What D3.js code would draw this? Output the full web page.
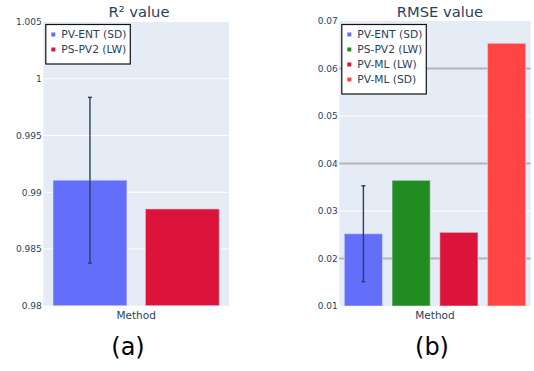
<!DOCTYPE html>
<html>
<head>
<meta charset="utf-8">
<script src="https://cdn.jsdelivr.net/npm/d3@7"></script>
<style>
  html, body { margin: 0; padding: 0; background: #fff; }
  svg { display: block; }
  text { font-family: "DejaVu Sans", Verdana, sans-serif; }
</style>
</head>
<body>
<svg id="chart" width="534" height="371"></svg>
<script>
// ---- data ----
const r2Methods = ["PV-ENT (SD)", "PS-PV2 (LW)"];
const r2Values = [0.99106, 0.98853];
const r2Errors = [0.0073, null];
const r2Ticks = [0.98, 0.985, 0.99, 0.995, 1, 1.005];
const r2TickLabels = ["0.98", "0.985", "0.99", "0.995", "1", "1.005"];

const rmseMethods = ["PV-ENT (SD)", "PS-PV2 (LW)", "PV-ML (LW)", "PV-ML (SD)"];
const rmseValues = [0.02522, 0.03646, 0.02551, 0.06531];
const rmseErrors = [0.0101, null, null, null];
const rmseTicks = [0.01, 0.02, 0.03, 0.04, 0.05, 0.06, 0.07];
const rmseTickLabels = ["0.01", "0.02", "0.03", "0.04", "0.05", "0.06", "0.07"];

const rmseColors = ["#636efa", "#228b22", "#dc143c", "#ff4444"];
const r2Colors = ["#636efa", "#dc143c"];

const svg = d3.select("#chart");
const textColor = "#2a3f5f";

function panel(cfg) {
  const g = svg.append("g");
  const x = d3.scaleBand().domain(cfg.methods).range([cfg.left, cfg.right])
    .paddingInner(0.2).paddingOuter(0.105);
  const y = d3.scaleLinear().domain(cfg.domain).range([cfg.bottom, cfg.top]);

  // plot background
  g.append("rect")
    .attr("x", cfg.left).attr("y", cfg.top)
    .attr("width", cfg.right - cfg.left).attr("height", cfg.bottom - cfg.top)
    .attr("fill", "#e5ecf6");

  // gridlines
  const inner = cfg.ticks.slice(1, -1);
  g.selectAll("line.grid").data(inner).join("line")
    .attr("class", "grid")
    .attr("x1", cfg.left).attr("x2", cfg.right)
    .attr("y1", d => y(d)).attr("y2", d => y(d))
    .attr("stroke", (d, i) => cfg.gridStyle(d, i).color)
    .attr("stroke-width", (d, i) => cfg.gridStyle(d, i).width);

  // y axis labels
  const yAxis = d3.axisLeft(y).tickValues(cfg.ticks)
    .tickFormat((d, i) => cfg.tickLabels[i]).tickSize(0).tickPadding(1.5);
  const ag = g.append("g").attr("transform", `translate(${cfg.left},0)`).call(yAxis);
  ag.select(".domain").remove();
  ag.selectAll("text").attr("fill", textColor).attr("font-size", 9)
    .attr("font-family", "'DejaVu Sans', Verdana, sans-serif");

  // bars
  g.selectAll("rect.bar").data(cfg.values).join("rect")
    .attr("class", "bar")
    .attr("x", (d, i) => x(cfg.methods[i]))
    .attr("width", x.bandwidth())
    .attr("y", d => y(d))
    .attr("height", d => cfg.bottom - y(d))
    .attr("fill", (d, i) => cfg.colors[i])
    .attr("stroke", "#e5ecf6").attr("stroke-opacity", 0.45).attr("stroke-width", 1.2);

  // error bars
  cfg.values.forEach((v, i) => {
    const e = cfg.errors[i];
    if (e == null) return;
    const cx = x(cfg.methods[i]) + x.bandwidth() / 2;
    const eg = g.append("g").attr("stroke", textColor).attr("stroke-width", 1.4);
    eg.append("line").attr("x1", cx).attr("x2", cx).attr("y1", y(v + e)).attr("y2", y(v - e));
    [v + e, v - e].forEach(t => {
      eg.append("line").attr("x1", cx - 2).attr("x2", cx + 2).attr("y1", y(t)).attr("y2", y(t));
    });
  });

  // title
  g.append("text").attr("x", cfg.titleX).attr("y", 17)
    .attr("text-anchor", "middle").attr("font-size", 14.7).attr("fill", textColor)
    .text(cfg.title);

  // x axis title
  g.append("text").attr("x", (cfg.left + cfg.right) / 2).attr("y", 319)
    .attr("text-anchor", "middle").attr("font-size", 10.5).attr("fill", textColor)
    .text("Method");

  // legend
  const lg = g.append("g").attr("transform", `translate(${cfg.left + 2.5},24.5)`);
  const lh = 10 + cfg.methods.length * 15;
  lg.append("rect").attr("width", 84.5).attr("height", lh - 0.5)
    .attr("fill", "#fff").attr("stroke", "#111").attr("stroke-width", 1.2);
  cfg.methods.forEach((m, i) => {
    const cy = 10 + i * 15;
    lg.append("rect").attr("x", 5.5).attr("y", cy - 2).attr("width", 4).attr("height", 4)
      .attr("fill", cfg.colors[i]);
    lg.append("text").attr("x", 15.5).attr("y", cy + 3.8)
      .attr("font-size", 10.7).attr("fill", textColor).text(m);
  });

  // panel caption
  svg.append("text").attr("x", cfg.captionX).attr("y", 355)
    .attr("text-anchor", "middle").attr("font-size", 24).attr("fill", "#000")
    .attr("font-family", "'Liberation Sans', Arial, sans-serif")
    .text(cfg.caption);
}

panel({
  methods: r2Methods, values: r2Values, errors: r2Errors, colors: r2Colors,
  ticks: r2Ticks, tickLabels: r2TickLabels, domain: [0.98, 1.005],
  left: 43.3, right: 229, top: 22, bottom: 305.7,
  gridStyle: () => ({ color: "#ffffff", width: 1 }),
  title: "R² value", titleX: 139, caption: "(a)", captionX: 128
});

panel({
  methods: rmseMethods, values: rmseValues, errors: rmseErrors, colors: rmseColors,
  ticks: rmseTicks, tickLabels: rmseTickLabels, domain: [0.01, 0.07],
  left: 339.3, right: 530.7, top: 21, bottom: 306,
  gridStyle: d => (Math.round(d * 100) % 2 === 0
    ? { color: "#b4b4b4", width: 2 } : { color: "#ffffff", width: 1 }),
  title: "RMSE value", titleX: 440, caption: "(b)", captionX: 432
});
</script>
</body>
</html>
